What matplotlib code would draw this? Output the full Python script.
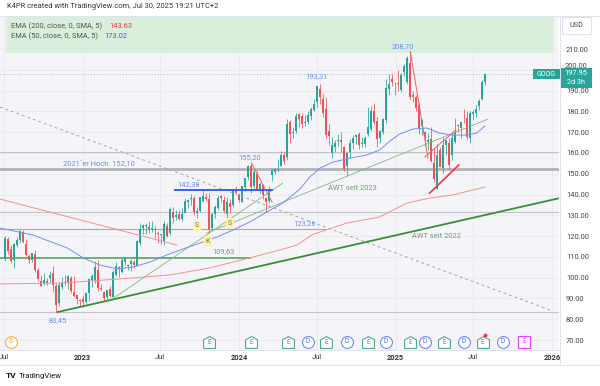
import numpy as np
import pandas as pd
import matplotlib
matplotlib.use('Agg')
import matplotlib.pyplot as plt
import matplotlib.dates as mdates
from matplotlib.patches import Rectangle
from matplotlib.path import Path
from matplotlib.transforms import blended_transform_factory

plt.rcParams['font.family'] = ['Roboto', 'DejaVu Sans']

# weekly GOOG candles, first week starts 2022-07-04
first_week = '2022-07-04'
opens = [
    # 2022
    108.9, 118.5, 113.9, 108.6, 115.5, 118.3, 122.2, 116.1, 110.6, 108.6, 111.6, 103.5, 98.5,
    97.2, 98.6, 99.8, 102.1, 95.8, 87.9, 95.6, 97.6, 97.3, 99.8, 93.1, 91.7, 89.3,
    # 2023
    89.8, 88.4, 92.8, 99.1, 99.1, 103.6, 95.0, 93.2, 90.9, 94.4, 90.6, 101.1, 105.3,
    102.7, 107.4, 105.4, 106.6, 107.7, 105.8, 116.7, 124.1, 125.0, 124.6, 123.6, 123.6, 121.5,
    120.3, 117.7, 125.0, 121.7, 131.7, 129.0, 130.5, 128.2, 131.3, 136.4, 137.7, 138.3, 131.3,
    132.2, 137.0, 139.0, 137.8, 124.1, 130.5, 133.4, 139.5, 137.6, 130.4, 135.7, 134.9, 142.0,
    # 2024
    139.6, 136.3, 143.4, 148.5, 153.6, 144.0, 150.0, 141.7, 144.6, 138.4, 136.8, 149.4, 150.9,
    151.8, 153.7, 158.9, 157.9, 175.0, 169.7, 170.7, 178.7, 178.0, 174.2, 175.0, 178.0, 180.5,
    184.5, 191.0, 186.0, 181.0, 170.5, 160.0, 163.0, 165.9, 166.0, 162.9, 153.8, 160.4, 164.9,
    167.7, 168.9, 164.5, 164.2, 169.0, 171.5, 180.0, 175.5, 167.0, 170.0, 176.0, 191.0, 195.5, 192.5,
    # 2025
    193.5, 190.5, 199.0, 194.0, 203.4, 188.0, 187.0, 183.0, 172.9, 170.0, 165.5, 166.5, 155.0,
    142.7, 161.5, 152.9, 163.9, 165.0, 159.0, 165.5, 173.0, 172.0, 176.0, 177.0, 167.0, 178.9,
    179.3, 182.5, 186.2, 194.0]
highs = [
    120.0, 119.8, 115.6, 116.9, 119.5, 122.9, 122.9, 118.4, 111.6, 112.0, 113.3, 104.5, 101.5,
    102.2, 99.8, 103.0, 105.5, 97.3, 98.0, 100.4, 101.3, 101.5, 100.7, 101.0, 91.7, 89.5,
    91.6, 93.0, 99.4, 101.6, 108.2, 108.7, 97.0, 93.6, 92.6, 96.2, 103.6, 107.5, 105.7,
    109.6, 109.6, 106.6, 109.2, 108.3, 117.9, 126.3, 125.8, 126.2, 127.2, 127.1, 124.7, 122.6,
    121.0, 127.3, 126.5, 134.1, 133.8, 132.6, 132.6, 133.6, 138.4, 137.9, 140.2, 139.2, 134.0,
    138.8, 142.38, 140.8, 140.5, 131.0, 135.0, 139.6, 139.7, 139.4, 139.0, 137.7, 142.7, 143.9,
    140.6, 144.3, 148.0, 154.1, 155.2, 151.6, 151.3, 145.9, 145.0, 139.0, 144.2, 152.2, 152.6,
    157.0, 161.0, 160.8, 176.4, 175.9, 172.5, 179.0, 179.0, 179.0, 178.2, 180.0, 182.0, 186.2,
    192.0, 193.31, 188.4, 187.0, 174.0, 167.5, 166.3, 169.0, 170.1, 163.5, 160.4, 166.6, 168.7,
    169.1, 170.0, 167.6, 168.0, 182.0, 182.6, 184.0, 177.5, 171.0, 176.8, 195.6, 198.2, 198.0, 194.0,
    199.8, 198.5, 203.0, 206.5, 208.7, 190.0, 188.0, 184.5, 176.5, 170.5, 169.5, 172.5, 162.5,
    164.2, 163.0, 167.5, 166.4, 167.0, 170.0, 176.8, 174.0, 175.0, 181.0, 180.0, 180.2, 180.5,
    182.9, 185.8, 195.2, 198.6]
lows = [
    107.8, 111.5, 107.0, 104.5, 114.7, 116.5, 116.6, 110.5, 107.0, 107.5, 102.9, 98.4, 96.0,
    96.4, 96.3, 97.8, 93.2, 83.45, 86.4, 94.6, 96.4, 94.7, 92.4, 90.9, 87.2, 86.4,
    85.9, 87.6, 89.0, 95.6, 97.6, 93.5, 93.4, 89.0, 88.6, 90.6, 90.1, 100.8, 100.3,
    102.4, 105.9, 103.7, 103.4, 104.5, 105.5, 115.6, 121.0, 121.0, 121.6, 122.0, 119.0, 116.8,
    116.1, 115.8, 119.4, 120.3, 126.4, 127.7, 127.6, 127.4, 131.1, 133.4, 135.1, 130.3, 128.6,
    131.7, 136.6, 136.7, 121.5, 123.0, 128.9, 132.6, 136.5, 131.2, 128.8, 131.3, 134.2, 140.5,
    136.2, 136.2, 141.9, 146.9, 140.8, 143.0, 142.3, 140.7, 137.8, 131.5, 136.0, 146.6, 149.7,
    150.8, 153.5, 154.6, 156.6, 164.9, 167.3, 169.7, 172.5, 172.0, 172.8, 173.7, 176.0, 180.0,
    182.0, 183.5, 177.5, 167.4, 164.0, 157.4, 160.7, 163.5, 160.4, 151.4, 149.0, 157.8, 161.8,
    164.2, 162.0, 162.8, 162.8, 168.3, 170.5, 174.0, 163.0, 165.0, 169.0, 174.5, 188.0, 192.0, 188.0,
    190.0, 189.5, 197.0, 193.0, 186.0, 184.5, 180.0, 168.9, 168.5, 162.9, 161.5, 155.6, 145.8,
    142.66, 153.5, 150.5, 158.8, 152.0, 156.6, 164.6, 170.0, 167.2, 174.5, 166.6, 164.8, 175.8,
    177.4, 180.5, 185.4, 192.8]
closes = [
    119.3, 112.7, 108.0, 116.3, 118.1, 122.6, 117.2, 111.0, 108.7, 111.8, 103.6, 99.2, 96.2,
    98.7, 97.2, 101.5, 96.6, 86.7, 96.7, 97.4, 97.9, 100.8, 93.6, 91.2, 89.8, 88.7,
    88.2, 92.8, 99.3, 100.7, 105.2, 94.9, 94.6, 90.1, 94.0, 91.0, 102.5, 105.4, 104.0,
    108.4, 109.5, 105.9, 108.2, 106.2, 117.5, 123.5, 125.4, 125.0, 123.4, 124.1, 123.0, 121.0,
    120.9, 125.7, 120.0, 133.0, 128.5, 130.2, 128.1, 130.7, 136.8, 137.2, 138.3, 131.4, 131.9,
    138.7, 139.2, 137.9, 123.4, 130.4, 134.1, 138.2, 138.2, 131.9, 136.6, 134.0, 142.7, 140.9,
    137.4, 144.2, 148.0, 153.8, 143.5, 151.0, 142.2, 145.3, 139.6, 136.3, 142.2, 151.8, 152.3,
    152.5, 159.2, 156.3, 173.7, 169.0, 170.3, 178.0, 176.3, 174.0, 175.0, 178.4, 181.0, 183.4,
    192.0, 186.8, 179.4, 168.7, 168.4, 164.0, 164.7, 166.3, 165.1, 152.1, 160.0, 164.6, 167.2,
    168.6, 164.0, 165.0, 167.0, 172.7, 180.0, 174.7, 166.6, 170.5, 176.5, 191.4, 193.0, 194.0, 192.7,
    193.2, 197.6, 201.9, 205.6, 187.1, 186.9, 181.6, 172.2, 175.8, 167.1, 166.3, 156.1, 147.7,
    159.0, 153.4, 163.6, 166.1, 154.4, 167.0, 169.6, 172.9, 174.9, 175.7, 167.7, 179.3, 179.5,
    181.3, 185.1, 194.1, 197.95]

# indicator lines
ema50_dates = ['2022-06-22', '2022-09-07', '2022-11-26', '2023-01-02', '2023-02-10', '2023-03-22',
               '2023-04-28', '2023-06-07', '2023-07-16', '2023-08-23', '2023-10-02', '2023-11-11',
               '2023-12-18', '2024-01-26', '2024-03-06', '2024-04-12', '2024-05-22', '2024-06-14',
               '2024-07-08', '2024-08-07', '2024-09-16', '2024-10-25', '2024-11-24', '2024-12-18',
               '2025-01-10', '2025-02-10', '2025-03-14', '2025-04-13', '2025-05-13', '2025-06-15',
               '2025-07-09', '2025-07-28']
ema50_vals = [123.9, 120.5, 114.3, 109.5, 106.1, 104.2, 105.1, 107.5, 110.9, 113.8, 116.7, 119.6,
              122.9, 126.8, 131.6, 135.9, 142.6, 148.4, 152.7, 155.6, 157.5, 159.0, 161.4, 165.7,
              169.1, 171.5, 172.0, 169.6, 168.6, 168.6, 169.6, 173.02]
ema200_dates = ['2022-06-22', '2022-11-09', '2023-03-29', '2023-07-23', '2023-10-25', '2024-01-26',
                '2024-04-05', '2024-05-15', '2024-06-21', '2024-09-09', '2024-11-24', '2025-01-27',
                '2025-03-21', '2025-05-14', '2025-06-30', '2025-07-28']
ema200_vals = [97.0, 97.4, 99.4, 101.3, 104.7, 109.5, 113.3, 115.7, 120.8, 126.3, 129.2, 135.9,
               138.3, 139.8, 142.2, 143.63]

# drawn trend lines: (dates, prices)
awt2022 = (['2022-11-03', '2026-01-19'], [83.45, 138.3])
awt2023_a = (['2023-03-13', '2024-04-12'], [90.0, 145.5])
awt2023_b = (['2023-10-18', '2025-08-04'], [121.5, 176.3])
red_down = (['2022-06-22', '2023-08-09'], [137.8, 115.7])
gray_dash = (['2022-06-22', '2026-01-02'], [182.1, 84.0])
peak24 = (['2024-01-30', '2024-03-18'], [155.2, 136.4])
peak25 = (['2025-02-04', '2025-03-17'], [208.7, 157.6])
wedge_top = (['2025-03-10', '2025-05-21'], [158.1, 171.0])
wedge_bot = (['2025-03-21', '2025-05-28'], [140.7, 154.2])

full_levels = [160.6, 131.6, 83.45]
hoch_2021 = 152.10
level_12326 = (['2022-06-22', '2024-07-19'], 123.26)
level_10963 = (['2022-06-22', '2024-01-26'], 109.63)
level_14238 = (['2023-08-04', '2024-03-18'], 142.38)
last_price = 197.95

earn_dates = ['2023-10-24', '2024-01-30', '2024-04-25', '2024-07-23', '2024-10-29',
              '2025-02-04', '2025-04-24', '2025-07-23']
div_dates = ['2024-06-10', '2024-09-09', '2024-12-09', '2025-03-10', '2025-06-09', '2025-09-08']
split_date = '2022-07-18'
next_earn = '2025-10-28'

price_labels = [('83,45', '2022-11-03', 79.3), ('123,26', '2024-06-03', 125.8),
                ('142,38', '2023-09-05', 145.0), ('155,20', '2024-01-27', 157.6),
                ('193,31', '2024-06-29', 196.5), ('208,70', '2025-01-18', 211.0),
                ('2021\u00b4er Hoch: 152,10', '2023-02-07', 154.7)]
green_labels = [('109,63', '2023-11-25', 112.4), ('AWT seit 2023', '2024-09-21', 143.1),
                ('AWT seit 2022', '2025-04-07', 119.6)]
pivot_labels = [('S', '2023-09-25', 124.9), ('S', '2023-12-11', 126.3), ('K', '2023-10-20', 117.6)]


def d(s):
    return mdates.date2num(pd.Timestamp(s))


def dn(lst):
    return [d(s) for s in lst]


W, H = 600, 386
fig = plt.figure(figsize=(W / 100, H / 100), dpi=100)
fig.patch.set_facecolor('white')
ax = fig.add_axes([0, 1 - 350 / H, 559 / W, 334 / H])
ax.set_facecolor('#f5f5f9')
ax.set_xlim(d('2022-06-22'), d('2026-01-17'))
ax.set_ylim(65.2, 225.9)
for s in ax.spines.values():
    s.set_visible(False)

# grid
yt = np.arange(70, 211, 10)
xt_dates = ['2022-07-01', '2023-01-01', '2023-07-01', '2024-01-01', '2024-07-01',
            '2025-01-01', '2025-07-01', '2026-01-01']
xt_labels = ['Jul', '2023', 'Jul', '2024', 'Jul', '2025', 'Jul', '2026']
for v in yt:
    ax.axhline(v, color='#e8e8ee', lw=0.6, zorder=0)
for t in xt_dates:
    ax.axvline(d(t), color='#e8e8ee', lw=0.6, zorder=0)

# green zone on top
ax.add_patch(Rectangle((d('2022-07-06'), 208.3), d('2026-01-05') - d('2022-07-06'), 30,
                       facecolor='#d9eedb', edgecolor='none', zorder=0.5))

# horizontal levels
for v in full_levels:
    ax.axhline(v, color='#c4c4cc', lw=0.8, zorder=1)
ax.axhline(hoch_2021, color='#b2b2ba', lw=2.0, zorder=1)
ax.plot(dn(level_12326[0]), [level_12326[1]] * 2, color='#a8a8b0', lw=0.8, zorder=1)
ax.plot(dn(level_10963[0]), [level_10963[1]] * 2, color='#5aa55a', lw=1.2, zorder=1)
ax.axhline(last_price, color='#9cc2bc', lw=0.7, ls=(0, (1, 2)), zorder=1)

# candles
x = mdates.date2num(pd.date_range(first_week, periods=len(closes), freq='W-MON'))
o, h, l, c = map(np.array, (opens, highs, lows, closes))
cols = np.where(c >= o, '#26a69a', '#ef5350')
ax.vlines(x, l, h, colors=cols, lw=0.7, alpha=0.8, zorder=2)
ax.bar(x, np.maximum(np.abs(c - o), 0.4), bottom=np.minimum(o, c), width=4.9,
       color=cols, linewidth=0, zorder=2.5)

# trend lines
ax.plot(dn(gray_dash[0]), gray_dash[1], color='#a6a6a6', lw=0.7, ls=(0, (3, 3)), zorder=3)
ax.plot(dn(red_down[0]), red_down[1], color='#f29090', lw=0.7, zorder=3)
ax.plot(dn(awt2022[0]), awt2022[1], color='#3a8d3a', lw=1.3, zorder=3)
ax.plot(dn(awt2023_a[0]), awt2023_a[1], color='#80b880', lw=0.6, zorder=3)
ax.plot(dn(awt2023_b[0]), awt2023_b[1], color='#80b880', lw=0.6, zorder=3)
ax.plot(dn(level_14238[0]), [level_14238[1]] * 2, color='#2962ff', lw=1.4, zorder=3)
for seg in (peak24, peak25, wedge_top):
    ax.plot(dn(seg[0]), seg[1], color='#f26060', lw=0.7, zorder=3)
ax.plot(dn(wedge_bot[0]), wedge_bot[1], color='#f23645', lw=1.2, zorder=3)

# moving averages
ax.plot(dn(ema200_dates), ema200_vals, color='#f49090', lw=0.7, zorder=3)
ax.plot(dn(ema50_dates), ema50_vals, color='#6f8ff5', lw=0.7, zorder=3)

# labels
fs = 5.4
for txt, dt, p in price_labels:
    ax.text(d(dt), p, txt, color='#6a8ef0', fontsize=fs, ha='center', va='center', zorder=5)
for txt, dt, p in green_labels:
    ax.text(d(dt), p, txt, color='#6f9f6f', fontsize=fs, ha='center', va='center', zorder=5)
for txt, dt, p in pivot_labels:
    ax.text(d(dt), p, txt, color='#6b6b8a', fontsize=5, ha='center', va='center', zorder=5,
            bbox=dict(boxstyle='square,pad=0.25', fc='#fff59d', ec='none'))

# event markers at the bottom
tr = blended_transform_factory(ax.transData, ax.transAxes)
house = Path([(-1, -1), (1, -1), (1, 0.45), (0, 1), (-1, 0.45), (-1, -1)])
ym = 0.024
for dt in earn_dates:
    ax.plot(d(dt), ym, marker=house, ms=8.5, mfc='white', mec='#3d9e80', mew=0.7,
            transform=tr, clip_on=False, zorder=6)
    ax.text(d(dt), ym - 0.003, 'E', color='#3d9e80', fontsize=4.8, ha='center', va='center',
            transform=tr, zorder=7)
for dt in div_dates:
    ax.plot(d(dt), ym, marker='o', ms=8.5, mfc='white', mec='#5b7cf5', mew=0.7,
            transform=tr, clip_on=False, zorder=6)
    ax.text(d(dt), ym, 'D', color='#4a6cf0', fontsize=4.8, ha='center', va='center',
            transform=tr, zorder=7)
ax.plot(d(split_date), ym, marker='o', ms=8.5, mfc='white', mec='#ffa726', mew=0.7,
        transform=tr, clip_on=False, zorder=6)
ax.text(d(split_date), ym, 'S', color='#ff9800', fontsize=4.8, ha='center', va='center',
        transform=tr, zorder=7)
ax.plot(d(next_earn), ym, marker='s', ms=8, mfc='white', mec='#e040fb', mew=0.8,
        transform=tr, clip_on=False, zorder=6)
ax.text(d(next_earn), ym, 'E', color='#e040fb', fontsize=4.8, ha='center', va='center',
        transform=tr, zorder=7)
ax.plot(d(earn_dates[-1]) + 5, ym + 0.02, 'o', ms=1.8, color='#f23645', transform=tr, zorder=8)

# axes ticks (200.00 sits under the last-price box, as in the reference)
ax.yaxis.tick_right()
ax.set_yticks(yt)
ax.set_yticklabels(['' if v == 200 else '%.2f' % v for v in yt])
ax.tick_params(axis='y', length=0, pad=5, labelsize=5.4, labelcolor='#444444')
ax.set_xticks([d(t) for t in xt_dates])
ax.set_xticklabels(xt_labels)
ax.tick_params(axis='x', length=0, pad=3, labelsize=5.4, labelcolor='#333333')
for lab in ax.get_xticklabels():
    if lab.get_text() != 'Jul':
        lab.set_fontweight('bold')

# overlay: chrome in pixel coordinates
ov = fig.add_axes([0, 0, 1, 1], zorder=10)
ov.set_xlim(0, W)
ov.set_ylim(H, 0)
ov.axis('off')
ov.patch.set_alpha(0)
ov.add_patch(Rectangle((560, 350), 40, 14, fc='white', ec='none'))
for yy in (16, 350, 365):
    ov.plot([0, W if yy != 350 else 560], [yy, yy], color='#e0e3eb', lw=0.7)
ov.plot([560, 560], [16, 365], color='#e0e3eb', lw=0.7)

ov.text(7, 7, 'K4PR created with TradingView.com, Jul 30, 2025 19:21 UTC+2', fontsize=5.4,
        color='#333333', va='center')
ov.text(11, 26, 'EMA (200, close, 0, SMA, 5)', fontsize=5.4, color='#555555', va='center')
ov.text(109, 26, '143.63', fontsize=5.4, color='#f23645', va='center')
ov.text(11, 36.5, 'EMA (50, close, 0, SMA, 5)', fontsize=5.4, color='#555555', va='center')
ov.text(104, 36.5, '173.02', fontsize=5.4, color='#2962ff', va='center')

ov.add_patch(Rectangle((562, 17), 29, 17, fc='white', ec='#e0e3eb', lw=0.7))
ov.text(576.5, 25.5, 'USD', fontsize=5.2, color='#444444', ha='center', va='center')
ov.add_patch(Rectangle((533, 69), 27, 10, fc='#26a69a', ec='none'))
ov.text(546.5, 74, 'GOOG', fontsize=5, color='white', ha='center', va='center')
ov.text(575.5, 66.5, '200.00', fontsize=5.4, color='#444444', ha='center', va='center')
ov.add_patch(Rectangle((560, 68), 32, 20, fc='#26a69a', ec='none'))
ov.text(576, 73.5, '197.95', fontsize=5.4, color='white', ha='center', va='center')
ov.text(576, 82.5, '2d 3h', fontsize=5.2, color='white', ha='center', va='center')

ov.text(6, 376, 'TV', fontsize=6, color='#131722', fontweight='bold', va='center')
ov.text(19, 376, 'TradingView', fontsize=5.6, color='#131722', va='center')

fig.savefig('out.png', dpi=100, facecolor='white')
